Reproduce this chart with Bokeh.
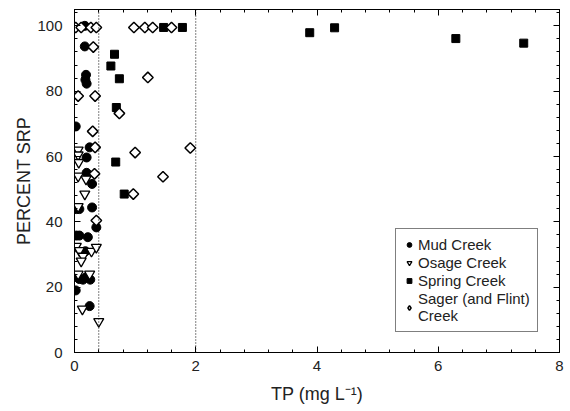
import math
from bokeh.plotting import figure
from bokeh.models import (Range1d, LinearAxis, Span, Legend, LegendItem,
                          SingleIntervalTicker, CustomJSTickFormatter)
from bokeh.embed import file_html
from bokeh.resources import INLINE

# ---- data ----
mud_x = [0.17, 0.17, 0.19, 0.18, 0.20, 0.02, 0.25, 0.20, 0.20, 0.29, 0.03, 0.08, 0.29,
         0.36, 0.03, 0.08, 0.22, 0.18, 0.02, 0.08, 0.14, 0.19, 0.26, 0.02, 0.25]
mud_y = [100.0, 93.7, 85.0, 83.5, 82.3, 69.2, 62.8, 59.7, 55.0, 51.6, 43.9, 43.9, 44.4,
         38.3, 35.8, 35.8, 35.3, 31.0, 23.2, 22.5, 22.3, 23.0, 22.3, 19.0, 14.2]

osage_x = [0.06, 0.06, 0.07, 0.06, 0.19, 0.17, 0.06, 0.03, 0.08, 0.28, 0.36, 0.14,
           0.11, 0.06, 0.25, 0.13, 0.40]
osage_y = [62.0, 60.5, 58.2, 54.0, 53.1, 48.5, 44.7, 32.5, 31.2, 31.0, 32.2, 29.5,
           28.0, 24.0, 24.0, 13.3, 9.5]

spring_x = [0.60, 0.66, 0.74, 0.69, 0.68, 0.82, 1.47, 1.78, 3.88, 4.29, 6.29, 7.41]
spring_y = [87.7, 91.3, 83.8, 75.0, 58.3, 48.5, 99.5, 99.5, 97.9, 99.4, 96.1, 94.7]

sager_x = [0.02, 0.11, 0.27, 0.36, 0.98, 1.16, 1.29, 1.60, 0.31, 1.21, 0.06, 0.34,
           0.74, 0.30, 0.34, 1.00, 1.91, 0.33, 1.46, 0.97, 0.36]
sager_y = [99.5, 99.5, 99.5, 99.5, 99.5, 99.5, 99.5, 99.5, 93.5, 84.2, 78.5, 78.5,
           73.2, 67.7, 62.8, 61.2, 62.6, 54.7, 53.8, 48.5, 40.4]

series_names = ["Mud Creek", "Osage Creek", "Spring Creek", "Sager (and Flint)\nCreek"]
threshold_lines = [0.4, 2.0]
x_label = "TP (mg L\u207b\u00b9)"
y_label = "PERCENT SRP"

FONT = "Liberation Sans"
TXT = "#222222"

p = figure(width=570, height=411, output_backend="svg", toolbar_location=None,
           x_range=Range1d(0, 8), y_range=Range1d(0, 105),
           min_border_left=74, min_border_right=11, min_border_top=9, min_border_bottom=59)
p.grid.visible = False
p.outline_line_color = "black"
p.background_fill_color = "white"
p.border_fill_color = "white"

def style_axis(ax, show_labels):
    ax.axis_line_color = "black"
    ax.major_tick_line_color = "black"
    ax.minor_tick_line_color = "black"
    ax.major_tick_in = 6
    ax.major_tick_out = 0
    ax.minor_tick_in = 3
    ax.minor_tick_out = 0
    ax.major_label_text_font = FONT
    ax.major_label_text_font_size = "15px"
    ax.major_label_text_color = TXT
    ax.axis_label_text_font = FONT
    ax.axis_label_text_font_size = "18px"
    ax.axis_label_text_font_style = "normal"
    ax.axis_label_text_color = TXT
    if not show_labels:
        ax.formatter = CustomJSTickFormatter(code="return ''")
        ax.major_label_standoff = 0
        ax.major_label_text_font_size = "0px"

p.xaxis.ticker = SingleIntervalTicker(interval=2, num_minor_ticks=5)
p.yaxis.ticker = SingleIntervalTicker(interval=20, num_minor_ticks=5)
for ax in p.xaxis:
    style_axis(ax, True)
    ax.major_label_standoff = 8
    ax.axis_label = x_label
    ax.axis_label_standoff = 10
for ax in p.yaxis:
    style_axis(ax, True)
    ax.major_label_standoff = 12
    ax.axis_label = y_label
    ax.axis_label_standoff = 0

top = LinearAxis(ticker=SingleIntervalTicker(interval=2, num_minor_ticks=5))
right = LinearAxis(ticker=SingleIntervalTicker(interval=20, num_minor_ticks=5))
style_axis(top, False)
style_axis(right, False)
p.add_layout(top, "above")
p.add_layout(right, "right")

for xv in threshold_lines:
    p.add_layout(Span(location=xv, dimension="height", line_color="black",
                      line_width=1, line_dash="1 2"))

r_mud = p.scatter(mud_x, mud_y, marker="circle", size=9, fill_color="black",
                  line_color="black")
r_osage = p.scatter(osage_x, osage_y, marker="inverted_triangle", size=10,
                    fill_color="white", line_color="black", line_width=1.3)
r_spring = p.scatter(spring_x, spring_y, marker="square", size=8, fill_color="black",
                     line_color="black")
# diamond glyph for the legend key, drawn underneath (fully covered by) the
# rotated-square diamonds below
r_sager_key = p.scatter(sager_x, sager_y, marker="diamond", size=8, fill_color="white",
                        line_color="black", line_width=1.5)
r_sager = p.scatter(sager_x, sager_y, marker="square", angle=math.pi / 4, size=7.5,
                    fill_color="white", line_color="black", line_width=1.5)

legend = Legend(items=[LegendItem(label=n, renderers=[r]) for n, r in
                       zip(series_names, [r_mud, r_osage, r_spring, r_sager_key])],
                location=(321, 20), border_line_color="black", border_line_width=1,
                background_fill_color="white", background_fill_alpha=1,
                label_text_font=FONT, label_text_font_size="15px",
                label_text_color=TXT, glyph_width=12, glyph_height=15,
                label_height=15, spacing=1, padding=7, label_standoff=3, margin=0)
p.add_layout(legend, "center")

open("out.html", "w").write(file_html(p, INLINE))
